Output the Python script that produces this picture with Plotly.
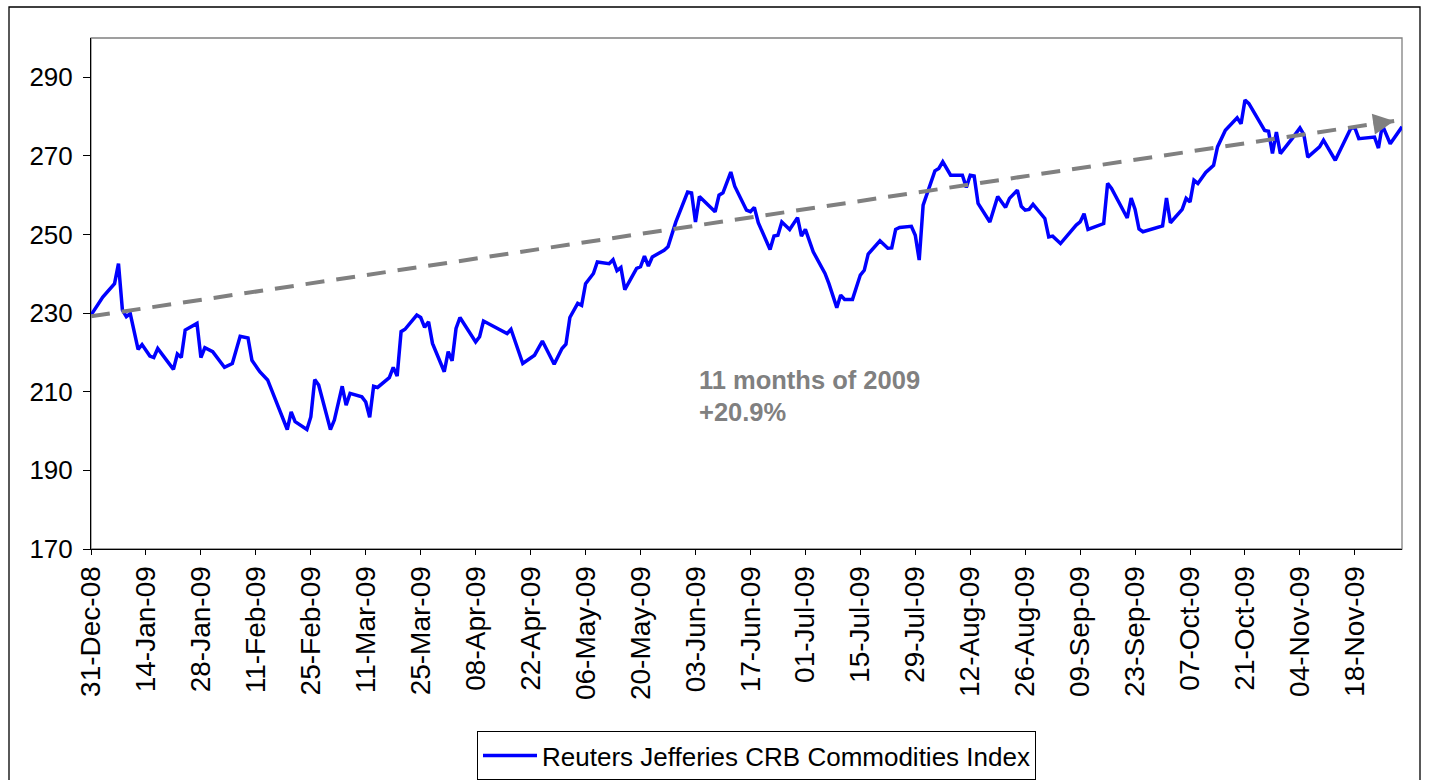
import plotly.graph_objects as go

# ---- data ----
dates = [
    "2008-12-31", "2009-01-03", "2009-01-06", "2009-01-07", "2009-01-08", "2009-01-09", "2009-01-10",
    "2009-01-12", "2009-01-13", "2009-01-15", "2009-01-16", "2009-01-17", "2009-01-21", "2009-01-22",
    "2009-01-23", "2009-01-24", "2009-01-27", "2009-01-28", "2009-01-29", "2009-01-31", "2009-02-03",
    "2009-02-05", "2009-02-07", "2009-02-09", "2009-02-10", "2009-02-12", "2009-02-14", "2009-02-19",
    "2009-02-20", "2009-02-21", "2009-02-24", "2009-02-25", "2009-02-26", "2009-02-27", "2009-03-02",
    "2009-03-03", "2009-03-05", "2009-03-06", "2009-03-07", "2009-03-10", "2009-03-11", "2009-03-12",
    "2009-03-13", "2009-03-14", "2009-03-17", "2009-03-18", "2009-03-19", "2009-03-20", "2009-03-21",
    "2009-03-24", "2009-03-25", "2009-03-26", "2009-03-27", "2009-03-28", "2009-03-31", "2009-04-01",
    "2009-04-02", "2009-04-03", "2009-04-04", "2009-04-08", "2009-04-09", "2009-04-10", "2009-04-16",
    "2009-04-17", "2009-04-20", "2009-04-23", "2009-04-25", "2009-04-28", "2009-04-30", "2009-05-01",
    "2009-05-02", "2009-05-04", "2009-05-05", "2009-05-06", "2009-05-08", "2009-05-09", "2009-05-12",
    "2009-05-13", "2009-05-14", "2009-05-15", "2009-05-16", "2009-05-19", "2009-05-20", "2009-05-21",
    "2009-05-22", "2009-05-23", "2009-05-26", "2009-05-27", "2009-05-29", "2009-06-01", "2009-06-02",
    "2009-06-03", "2009-06-04", "2009-06-06", "2009-06-08", "2009-06-09", "2009-06-10", "2009-06-12",
    "2009-06-13", "2009-06-16", "2009-06-17", "2009-06-18", "2009-06-19", "2009-06-22", "2009-06-23",
    "2009-06-24", "2009-06-25", "2009-06-27", "2009-06-29", "2009-06-30", "2009-07-01", "2009-07-03",
    "2009-07-06", "2009-07-07", "2009-07-09", "2009-07-10", "2009-07-11", "2009-07-13", "2009-07-15",
    "2009-07-16", "2009-07-17", "2009-07-20", "2009-07-22", "2009-07-23", "2009-07-24", "2009-07-25",
    "2009-07-28", "2009-07-29", "2009-07-30", "2009-07-31", "2009-08-03", "2009-08-04", "2009-08-05",
    "2009-08-07", "2009-08-10", "2009-08-11", "2009-08-12", "2009-08-13", "2009-08-14", "2009-08-17",
    "2009-08-19", "2009-08-21", "2009-08-22", "2009-08-24", "2009-08-25", "2009-08-26", "2009-08-27",
    "2009-08-28", "2009-08-31", "2009-09-01", "2009-09-02", "2009-09-04", "2009-09-08", "2009-09-09",
    "2009-09-10", "2009-09-11", "2009-09-14", "2009-09-15", "2009-09-16", "2009-09-17", "2009-09-21",
    "2009-09-22", "2009-09-23", "2009-09-24", "2009-09-25", "2009-09-30", "2009-10-01", "2009-10-02",
    "2009-10-05", "2009-10-06", "2009-10-07", "2009-10-08", "2009-10-09", "2009-10-11", "2009-10-13",
    "2009-10-14", "2009-10-16", "2009-10-19", "2009-10-20", "2009-10-21", "2009-10-22", "2009-10-24",
    "2009-10-26", "2009-10-27", "2009-10-28", "2009-10-29", "2009-10-30", "2009-11-02", "2009-11-04",
    "2009-11-05", "2009-11-06", "2009-11-09", "2009-11-10", "2009-11-11", "2009-11-13", "2009-11-17",
    "2009-11-18", "2009-11-19", "2009-11-23", "2009-11-24", "2009-11-25", "2009-11-27", "2009-11-30",
]
crb_values = [
    229.5, 234.1, 237.5, 242.6, 230.8, 229.1, 229.9,
    220.8, 222.0, 219.1, 218.7, 221.0, 215.7, 219.6,
    218.7, 225.7, 227.4, 218.7, 221.2, 220.2, 216.2,
    217.2, 224.1, 223.7, 218.0, 215.1, 213.0, 200.4,
    204.9, 202.4, 200.4, 203.6, 213.1, 211.7, 200.4,
    202.8, 211.4, 206.6, 209.6, 208.7, 207.4, 203.5,
    211.4, 211.1, 213.6, 216.2, 214.0, 225.3, 225.9,
    229.5, 228.9, 226.4, 227.8, 222.3, 215.1, 220.2,
    217.9, 226.1, 228.9, 222.7, 224.0, 228.0, 224.8,
    225.9, 217.2, 219.3, 222.9, 217.0, 221.0, 222.1,
    228.9, 232.5, 232.0, 237.5, 240.1, 243.0, 242.6,
    243.6, 240.8, 241.6, 236.0, 241.4, 241.8, 244.5,
    242.0, 244.3, 246.0, 246.9, 253.2, 260.8, 260.6,
    253.2, 259.7, 257.9, 255.8, 260.0, 260.6, 265.9,
    262.3, 256.2, 255.8, 256.9, 253.0, 246.2, 249.6,
    249.8, 253.2, 251.3, 254.3, 249.6, 251.3, 245.6,
    240.1, 237.5, 231.4, 234.6, 233.5, 233.5, 239.7,
    240.9, 245.0, 248.4, 246.5, 246.6, 251.3, 251.8,
    252.1, 249.8, 243.5, 257.5, 266.2, 266.8, 268.5,
    265.1, 265.1, 262.0, 265.1, 264.9, 257.9, 253.2,
    259.7, 256.9, 259.2, 261.3, 257.2, 256.2, 256.4,
    257.7, 254.1, 249.4, 249.6, 247.7, 252.4, 253.2,
    255.3, 251.3, 252.6, 252.8, 263.0, 261.7, 254.2,
    259.3, 256.4, 251.4, 250.7, 252.2, 259.3, 253.0,
    256.4, 259.2, 258.3, 263.8, 263.0, 265.8, 267.6,
    272.3, 276.5, 279.7, 278.2, 284.2, 283.3, 279.9,
    276.5, 276.3, 270.6, 276.1, 270.6, 274.4, 277.1,
    275.4, 269.7, 272.3, 274.0, 272.3, 268.9, 277.1,
    277.1, 274.4, 274.8, 272.0, 277.8, 273.1, 277.4,
]
series_name = "Reuters Jefferies CRB Commodities Index"

trend_dates = ["2008-12-31", "2009-11-28"]
trend_values = [229.2, 278.9]

y_ticks = [170, 190, 210, 230, 250, 270, 290]
annot_line1 = "11 months of 2009"
annot_line2 = "+20.9%"

# ---- figure ----
FONT = "Liberation Sans, Arial, sans-serif"
GRAY = "#808080"

fig = go.Figure()
fig.add_trace(go.Scatter(
    x=dates, y=crb_values, mode="lines", name=series_name,
    line=dict(color="#0000FF", width=3.5),
))
fig.add_trace(go.Scatter(
    x=trend_dates, y=trend_values, mode="lines", showlegend=False, hoverinfo="skip",
    line=dict(color=GRAY, width=4, dash="19px,12px"),
))

# arrow head at the end of the trend line
fig.add_annotation(
    x=trend_dates[-1], y=trend_values[-1], xref="x", yref="y",
    ax=-22, ay=3.3, text="", showarrow=True, arrowhead=2, arrowsize=1.05,
    arrowwidth=4, arrowcolor=GRAY, standoff=0,
)
fig.add_annotation(
    x=0.4622, y=0.3305, xref="paper", yref="paper", xanchor="left", yanchor="middle",
    text="<b>%s</b>" % annot_line1, showarrow=False,
    font=dict(family=FONT, size=25.5, color=GRAY),
)
fig.add_annotation(
    x=0.4622, y=0.268, xref="paper", yref="paper", xanchor="left", yanchor="middle",
    text="<b>%s</b>" % annot_line2, showarrow=False,
    font=dict(family=FONT, size=25.5, color=GRAY),
)

# plot-area border (gray) and outer chart border (black)
fig.add_shape(type="rect", xref="paper", yref="paper", x0=0, y0=0, x1=1, y1=1,
              line=dict(color=GRAY, width=1.3), layer="below")
fig.add_shape(type="rect", xref="paper", yref="paper",
              x0=(9 - 91) / 1311, x1=(1420 - 91) / 1311,
              y0=(549 - 790) / 511, y1=(549 - 7) / 511,
              line=dict(color="black", width=1.3), layer="below")

fig.update_layout(
    width=1430, height=780,
    margin=dict(l=91, r=28, t=38, b=231, autoexpand=False),
    paper_bgcolor="white", plot_bgcolor="white",
    font=dict(family=FONT, color="black", size=26),
    showlegend=True,
    legend=dict(
        x=(477 - 91) / 1311, y=(549 - 731) / 511, xanchor="left", yanchor="top",
        bordercolor="black", borderwidth=1, bgcolor="white",
        font=dict(family=FONT, size=26, color="black"),
        itemwidth=54, tracegroupgap=0,
    ),
    xaxis=dict(
        type="date", range=["2008-12-31", "2009-11-30"], automargin=False,
        tick0="2008-12-31", dtick=14 * 86400000, tickformat="%d-%b-%y",
        tickangle=-90, ticks="outside", ticklen=5, tickcolor="black",
        showline=True, linecolor="black", linewidth=1,
        showgrid=False, zeroline=False,
        tickfont=dict(family=FONT, size=28, color="black"),
    ),
    yaxis=dict(
        range=[170, 300], tickvals=y_ticks, ticks="outside", ticklen=7, tickcolor="black",
        showline=True, linecolor="black", linewidth=1, automargin=False,
        showgrid=False, zeroline=False, ticklabelstandoff=5,
        tickfont=dict(family=FONT, size=26, color="black"),
    ),
)

fig.write_html("out.html")
